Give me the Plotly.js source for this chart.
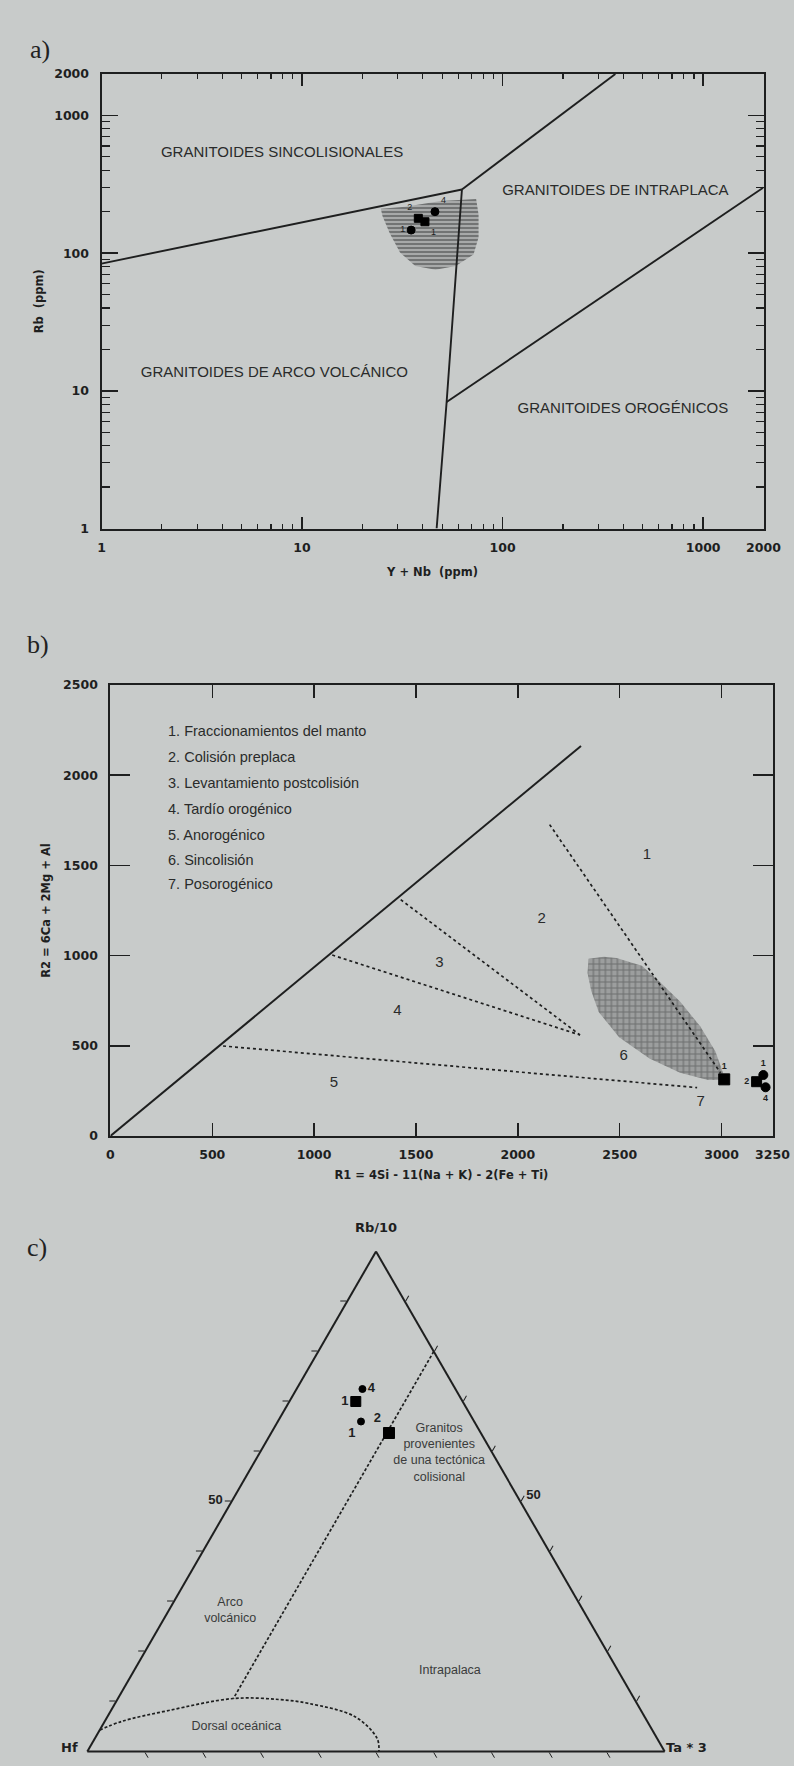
<!DOCTYPE html>
<html>
<head>
<meta charset="utf-8">
<script src="https://cdn.plot.ly/plotly-3.0.1.min.js"></script>
<style>
html,body{margin:0;padding:0;background:#c8cbca;}
#chart{width:794px;height:1766px;}
</style>
</head>
<body>
<div id="chart"></div>
<script>
// ---------------- Panel a: Rb vs (Y+Nb), log-log (Pearce et al.) ----------------
const aSynVagX = [1, 62.7];
const aSynVagY = [84, 290];
const aSynWpgX = [62.7, 365];
const aSynWpgY = [290, 2000];
const aVagWpgX = [62.7, 52.6, 46.9];
const aVagWpgY = [290, 8.3, 1];
const aWpgOrgX = [52.6, 2000];
const aWpgOrgY = [8.3, 300];
const aFieldX = [24.7, 32.7, 49.1, 73.8, 75.9, 75.9, 71.6, 58.4, 46.3, 36.7, 30.8, 27.4, 25.2, 24.7];
const aFieldY = [210, 217, 239, 247, 191, 130, 97.7, 80.6, 75.7, 80.6, 101, 139, 185, 210];
const aTickVals = [1, 10, 100, 1000, 2000];
const aTickText = ['1', '10', '100', '1000', '2000'];
const aRegionText = ['GRANITOIDES SINCOLISIONALES', 'GRANITOIDES DE INTRAPLACA', 'GRANITOIDES DE ARCO VOLCÁNICO', 'GRANITOIDES OROGÉNICOS'];
const aRegionX = [7.95, 365, 7.28, 398];
const aRegionY = [533, 281, 13.4, 7.31];

// ---------------- Samples (same order in every panel) ----------------
const sampleNames = ['1', '2', '1', '4'];
const sampleSymbols = ['square', 'square', 'circle', 'circle'];
const aYNb = [41, 38, 35, 46];
const aRb = [169, 179, 147, 200];
const bR1 = [3013, 3172, 3205, 3216];
const bR2 = [314, 301, 338, 270];
const cRb10 = [70.0, 63.7, 66.0, 72.5];
const cHf = [18.5, 15.9, 19.6, 16.1];
const cTa3 = [11.5, 20.4, 14.4, 11.4];

// ---------------- Panel b: R1-R2 (Batchelor & Bowden) ----------------
const bDiagX = [0, 2310];
const bDiagY = [0, 2162];
const b54X = [553, 2880];
const b54Y = [499, 268];
const b43X = [1089, 2305];
const b43Y = [1003, 560];
const b32X = [1425, 2305];
const b32Y = [1310, 560];
const b21X = [2156, 2995];
const b21Y = [1726, 350];
const bFieldX = [2347, 2422, 2484, 2609, 2696, 2796, 2895, 2970, 3007, 2995, 2933, 2796, 2646, 2497, 2397, 2360, 2342, 2347];
const bFieldY = [983, 993, 987, 944, 855, 746, 608, 469, 350, 310, 310, 350, 429, 548, 687, 805, 904, 983];
const bLegend = ['1. Fraccionamientos del manto', '2. Colisión preplaca', '3. Levantamiento postcolisión', '4. Tardío orogénico', '5. Anorogénico', '6. Sincolisión', '7. Posorogénico'];
const bLegendX = 283;
const bLegendY = [2240, 2092, 1950, 1805, 1663, 1522, 1389];
const bZoneText = ['1', '2', '3', '4', '5', '6', '7'];
const bZoneX = [2634, 2117, 1615, 1409, 1097, 2519, 2898];
const bZoneY = [1558, 1204, 958, 692, 295, 443, 188];
const bXTicks = [0, 500, 1000, 1500, 2000, 2500, 3000, 3250];
const bYTicks = [0, 500, 1000, 1500, 2000, 2500];

// ---------------- Panel c: Rb/10 - Hf - Ta*3 (Harris et al.) ----------------
const cLineRb = [80, 10.6];
const cLineHf = [0, 69.4];
const cLineTa = [20, 20];
const cCurveRb = [4.3, 6.0, 8.2, 10.6, 10.4, 9.6, 6.9, 2.6, 0];
const cCurveTa = [0, 2.9, 10.0, 20.0, 28.0, 33.6, 43.0, 48.9, 50.5];
const cCurveHf = cCurveRb.map((a, i) => 100 - a - cCurveTa[i]);
const cRegionText = ['Granitos<br>provenientes<br>de una tectónica<br>colisional', 'Arco<br>volcánico', 'Intrapalaca', 'Dorsal oceánica'];
const cRegionRb = [59.7, 28.1, 16.2, 5.0];
const cRegionHf = [9.2, 61.2, 29.1, 71.7];
const cRegionTa = [31.1, 10.7, 54.7, 23.3];
const cTickVals = [10, 20, 30, 40, 50, 60, 70, 80, 90];
const cTickText = ['', '', '', '', '50', '', '', '', ''];
const cCornerLabels = ['Rb/10', 'Hf', 'Ta * 3'];

// ---------------- styles ----------------
const INK = '#1e1f1f';
const BG = '#c8cbca';
const tickFont = {family: 'DejaVu Sans', size: 12.5, color: INK, weight: 700};
const titleFont = {family: 'DejaVu Sans', size: 11.5, color: INK, weight: 700};
const regionFont = {family: 'Liberation Sans, Arial', size: 15, color: '#2a2b2b'};
const cornerFont = {family: 'DejaVu Sans', size: 13, color: INK, weight: 700};
const markerStyle = (sizes) => ({symbol: sampleSymbols, size: sizes, color: '#000', opacity: 1,
  line: {width: 1, color: '#000'}});

function line(x, y, xa, ya, dash, w) {
  return {type: 'scatter', mode: 'lines', x: x, y: y, xaxis: xa, yaxis: ya,
    line: {color: INK, width: w || 1.9, dash: dash || 'solid'}, hoverinfo: 'skip'};
}

const traces = [];
// panel a
traces.push({type: 'scatter', mode: 'lines', x: aFieldX, y: aFieldY, xaxis: 'x', yaxis: 'y',
  fill: 'toself', fillcolor: '#a4a6a6', line: {width: 0, color: 'rgba(0,0,0,0)'},
  fillpattern: {shape: '-', bgcolor: '#a7a9a9', fgcolor: '#6c6e6e', size: 4, solidity: 0.45}, hoverinfo: 'skip'});
traces.push(line(aSynVagX, aSynVagY, 'x', 'y'));
traces.push(line(aSynWpgX, aSynWpgY, 'x', 'y'));
traces.push(line(aVagWpgX, aVagWpgY, 'x', 'y'));
traces.push(line(aWpgOrgX, aWpgOrgY, 'x', 'y'));
traces.push({type: 'scatter', mode: 'text', x: aRegionX, y: aRegionY, text: aRegionText, xaxis: 'x', yaxis: 'y',
  textfont: regionFont, hoverinfo: 'skip'});
traces.push({type: 'scatter', mode: 'markers+text', x: aYNb, y: aRb, xaxis: 'x', yaxis: 'y', text: sampleNames,
  textposition: ['bottom right', 'top left', 'middle left', 'top right'],
  textfont: {family: 'Liberation Sans', size: 9, color: INK},
  marker: markerStyle(8), hoverinfo: 'skip'});

// panel b
traces.push({type: 'scatter', mode: 'lines', x: bFieldX, y: bFieldY, xaxis: 'x2', yaxis: 'y2',
  fill: 'toself', fillcolor: '#9a9c9c', line: {width: 0, color: 'rgba(0,0,0,0)'},
  fillpattern: {shape: '+', bgcolor: '#9c9e9e', fgcolor: '#6e7070', size: 6, solidity: 0.35}, hoverinfo: 'skip'});
traces.push(line(bDiagX, bDiagY, 'x2', 'y2', 'solid', 2));
traces.push(line(b54X, b54Y, 'x2', 'y2', '3px,3px', 1.7));
traces.push(line(b43X, b43Y, 'x2', 'y2', '3px,3px', 1.7));
traces.push(line(b32X, b32Y, 'x2', 'y2', '3px,3px', 1.7));
traces.push(line(b21X, b21Y, 'x2', 'y2', '3px,3px', 1.7));
traces.push({type: 'scatter', mode: 'text', x: bZoneX, y: bZoneY, text: bZoneText, xaxis: 'x2', yaxis: 'y2',
  textfont: {family: 'Liberation Sans', size: 15, color: '#2a2b2b'}, hoverinfo: 'skip'});
traces.push({type: 'scatter', mode: 'text', x: bLegendY.map(() => bLegendX), y: bLegendY, text: bLegend,
  xaxis: 'x2', yaxis: 'y2', textposition: 'middle right',
  textfont: {family: 'Liberation Sans', size: 14.5, color: '#2a2b2b'}, hoverinfo: 'skip'});
traces.push({type: 'scatter', mode: 'markers+text', x: bR1, y: bR2, xaxis: 'x2', yaxis: 'y2', text: sampleNames,
  textposition: ['top center', 'middle left', 'top center', 'bottom center'],
  textfont: {family: 'Liberation Sans', size: 9, color: INK, weight: 700},
  marker: markerStyle([11, 10, 9, 9]), hoverinfo: 'skip'});

// panel c
traces.push({type: 'scatterternary', mode: 'lines', a: cLineRb, b: cLineHf, c: cLineTa,
  line: {color: INK, width: 1.7, dash: '3px,2px'}, hoverinfo: 'skip'});
traces.push({type: 'scatterternary', mode: 'lines', a: cCurveRb, b: cCurveHf, c: cCurveTa,
  line: {color: INK, width: 1.7, dash: '3px,2px', shape: 'spline'}, hoverinfo: 'skip'});
traces.push({type: 'scatterternary', mode: 'text', a: cRegionRb, b: cRegionHf, c: cRegionTa, text: cRegionText,
  textfont: {family: 'Liberation Sans', size: 12.5, color: '#3a3b3b'}, hoverinfo: 'skip'});
traces.push({type: 'scatterternary', mode: 'markers+text', a: cRb10, b: cHf, c: cTa3, text: sampleNames,
  textposition: ['middle left', 'top left', 'bottom left', 'middle right'],
  textfont: {family: 'Liberation Sans', size: 13, color: INK, weight: 700},
  marker: markerStyle([10, 11, 7, 7]), hoverinfo: 'skip'});

function tAxis(title) {
  return {title: {text: title, font: cornerFont},
    min: 0, linecolor: INK, linewidth: 2, showgrid: false, ticks: 'outside', ticklen: 6,
    tickcolor: INK, tickwidth: 1, tickmode: 'array', tickvals: cTickVals, ticktext: cTickText,
    tickfont: {family: 'Liberation Sans', size: 13, color: INK, weight: 700}};
}

const W = 794, H = 1766;
// ternary triangle box (equilateral, centred where the printed triangle is)
const TX0 = 87, TX1 = 665, TY1 = 1751.5, TY0 = 1251.5;
const layout = {
  width: W, height: H, margin: {l: 0, r: 0, t: 0, b: 0},
  paper_bgcolor: BG, plot_bgcolor: BG, showlegend: false,
  xaxis: {type: 'log', domain: [101.5 / W, 763.5 / W], anchor: 'y', range: [0, Math.log10(2000)],
    tickmode: 'array', tickvals: aTickVals, ticktext: aTickText, ticks: 'inside', ticklen: 12, tickwidth: 1.5,
    tickcolor: INK, showline: true, linecolor: INK, linewidth: 2, mirror: 'ticks', showgrid: false, zeroline: false,
    tickfont: tickFont, ticklabelstandoff: 6,
    minor: {tickmode: 'array', tickvals: [2,3,4,5,6,7,8,9,20,30,40,50,60,70,80,90,200,300,400,500,600,700,800,900],
      ticks: 'inside', ticklen: 5, tickwidth: 1.2, tickcolor: INK, showgrid: false},
    title: {text: 'Y + Nb  (ppm)', font: titleFont, standoff: 14}},
  yaxis: {type: 'log', domain: [1 - 528.5 / H, 1 - 74 / H], anchor: 'x', range: [0, Math.log10(2000)],
    tickmode: 'array', tickvals: aTickVals, ticktext: aTickText, ticks: 'inside', ticklen: 16, tickwidth: 1.5,
    tickcolor: INK, showline: true, linecolor: INK, linewidth: 2, mirror: 'ticks', showgrid: false, zeroline: false,
    tickfont: tickFont, ticklabelstandoff: 8,
    minor: {tickmode: 'array', tickvals: [2,3,4,5,6,7,8,9,20,30,40,50,60,70,80,90,200,300,400,500,600,700,800,900],
      ticks: 'inside', ticklen: 8, tickwidth: 1.2, tickcolor: INK, showgrid: false},
    title: {text: 'Rb  (ppm)', font: titleFont, standoff: 8}},
  xaxis2: {domain: [110.4 / W, 772.5 / W], anchor: 'y2', range: [0, 3250],
    tickmode: 'array', tickvals: bXTicks, ticks: 'inside', ticklen: 13, tickwidth: 1.5, tickcolor: INK,
    showline: true, linecolor: INK, linewidth: 2, mirror: 'ticks', showgrid: false, zeroline: false,
    tickfont: tickFont, ticklabelstandoff: 6,
    title: {text: 'R1 = 4Si - 11(Na + K) - 2(Fe + Ti)', font: titleFont, standoff: 10}},
  yaxis2: {domain: [1 - 1136 / H, 1 - 685 / H], anchor: 'x2', range: [0, 2500],
    tickmode: 'array', tickvals: bYTicks, ticks: 'inside', ticklen: 20, tickwidth: 1.5, tickcolor: INK,
    showline: true, linecolor: INK, linewidth: 2, mirror: 'ticks', showgrid: false, zeroline: false,
    tickfont: tickFont, ticklabelstandoff: 8,
    title: {text: 'R2 = 6Ca + 2Mg + Al', font: titleFont, standoff: 10}},
  ternary: {
    domain: {x: [TX0 / W, TX1 / W], y: [1 - TY1 / H, 1 - TY0 / H]},
    sum: 100, bgcolor: 'rgba(0,0,0,0)',
    aaxis: tAxis(cCornerLabels[0]),
    baxis: Object.assign(tAxis(''), {showticklabels: false}),
    caxis: tAxis('')
  },
  annotations: [
    {text: 'a)', x: 27.8 / W, y: 1 - 32.5 / H, xref: 'paper', yref: 'paper', showarrow: false,
      font: {family: 'Liberation Serif', size: 26, color: '#222'}},
    {text: 'b)', x: 25 / W, y: 1 - 644 / H, xref: 'paper', yref: 'paper', showarrow: false,
      font: {family: 'Liberation Serif', size: 26, color: '#222'}},
    {text: 'c)', x: 25 / W, y: 1 - 1264 / H, xref: 'paper', yref: 'paper', showarrow: false,
      font: {family: 'Liberation Serif', size: 26, color: '#222'}},
    {text: cCornerLabels[1], x: (TX0 - 28) / W, y: 1 - 1757 / H, xref: 'paper', yref: 'paper', showarrow: false,
      font: cornerFont},
    {text: cCornerLabels[2], x: (TX1 + 44) / W, y: 1 - 1757 / H, xref: 'paper', yref: 'paper', showarrow: false,
      font: cornerFont}
  ]
};

Plotly.newPlot('chart', traces, layout, {staticPlot: true});
</script>
</body>
</html>
